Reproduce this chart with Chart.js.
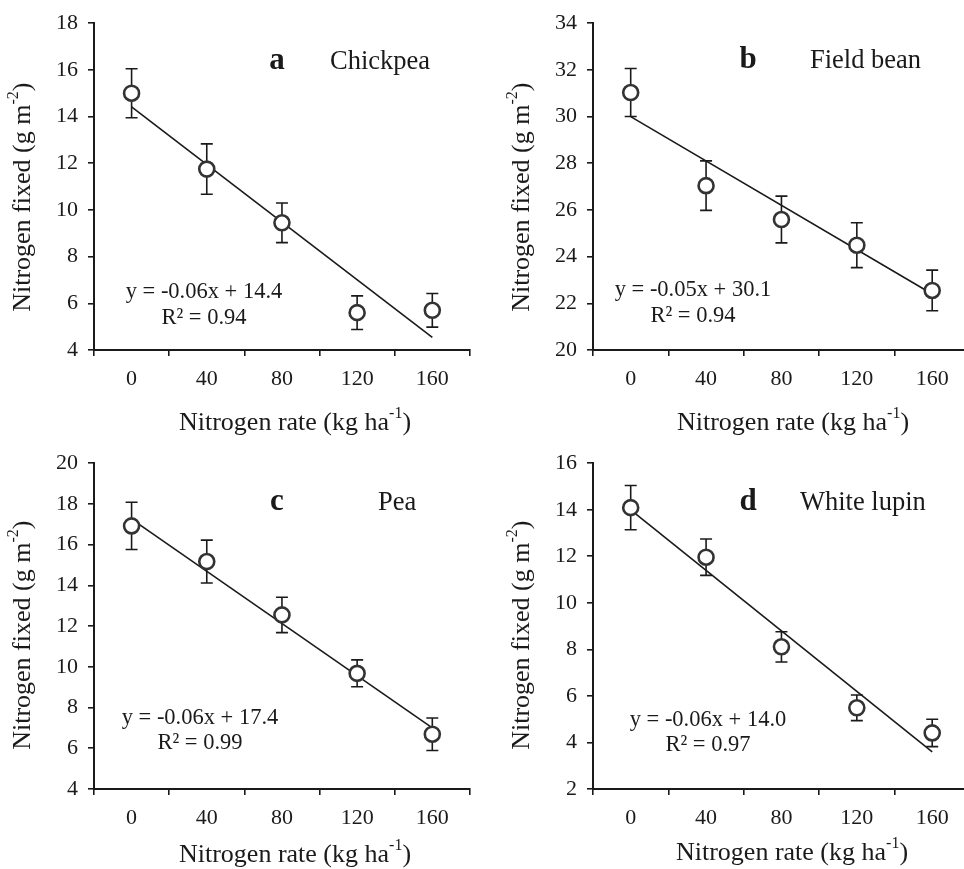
<!DOCTYPE html>
<html lang="en">
<head>
<meta charset="UTF-8">
<script src="https://cdn.jsdelivr.net/npm/chart.js"></script>
<title>Nitrogen fixed vs nitrogen rate</title>
<style>
  html, body { margin: 0; padding: 0; background: #fff; overflow: hidden; }
  body { width: 964px; height: 869px; position: relative; }
  canvas { position: absolute; }
</style>
</head>
<body>
<canvas id="panelA"></canvas>
<canvas id="panelB"></canvas>
<canvas id="panelC"></canvas>
<canvas id="panelD"></canvas>

<script>
// categories (kg N per ha)
const rates = ['0', '40', '80', '120', '160'];

// a - chickpea
const chickpeaMean = [15.0, 11.75, 9.45, 5.6, 5.7];
const chickpeaErr  = [1.05, 1.08, 0.85, 0.72, 0.72];
const chickpeaFit  = [14.42, 4.54];
const chickpeaY    = [4, 18];

// b - field bean
const beanMean = [31.03, 27.04, 25.59, 24.49, 22.55];
const beanErr  = [1.03, 1.06, 1.0, 0.96, 0.87];
const beanFit  = [30.0, 22.4];
const beanY    = [20, 34];

// c - pea
const peaMean = [16.92, 15.17, 12.55, 9.68, 6.69];
const peaErr  = [1.16, 1.05, 0.87, 0.66, 0.8];
const peaFit  = [17.25, 7.0];
const peaY    = [4, 20];

// d - white lupin
const lupinMean = [14.09, 11.96, 8.11, 5.49, 4.41];
const lupinErr  = [0.95, 0.78, 0.65, 0.55, 0.59];
const lupinFit  = [13.99, 3.6];
const lupinY    = [2, 16];

const SERIF = "'Liberation Serif', 'Times New Roman', serif";
const INK = '#1a1a1a';

// text with a raised part, centred on (x, y)
function richText(ctx, parts, x, y) {
  const big = '26px ' + SERIF, small = '16px ' + SERIF;
  let w = 0;
  parts.forEach(p => { ctx.font = p[1] ? small : big; w += ctx.measureText(p[0]).width; });
  let cx = x - w / 2;
  ctx.textAlign = 'left';
  ctx.textBaseline = 'middle';
  parts.forEach(p => {
    ctx.font = p[1] ? small : big;
    ctx.fillText(p[0], cx, p[1] ? y - 9 : y);
    cx += ctx.measureText(p[0]).width;
  });
}

// error bars + in-plot text + axis titles
const extras = {
  id: 'extras',
  beforeDatasetsDraw(chart) {
    const o = chart.options.plugins.extras;
    const xs = chart.scales.x, ys = chart.scales.y;
    const ctx = chart.ctx;
    ctx.save();
    ctx.strokeStyle = INK;
    ctx.lineWidth = 1.6;
    o.mean.forEach((v, i) => {
      const px = xs.getPixelForValue(i);
      const top = ys.getPixelForValue(v + o.err[i]);
      const bot = ys.getPixelForValue(v - o.err[i]);
      ctx.beginPath();
      ctx.moveTo(px, top); ctx.lineTo(px, bot);
      ctx.moveTo(px - 6, top); ctx.lineTo(px + 6, top);
      ctx.moveTo(px - 6, bot); ctx.lineTo(px + 6, bot);
      ctx.stroke();
    });
    ctx.restore();
  },
  afterDraw(chart) {
    const o = chart.options.plugins.extras;
    const a = chart.chartArea;
    const ctx = chart.ctx;
    ctx.save();
    ctx.fillStyle = INK;
    ctx.textBaseline = 'alphabetic';
    ctx.textAlign = 'center';
    ctx.font = 'bold 31px ' + SERIF;
    ctx.fillText(o.tag, a.left + o.tagPos[0], a.top + o.tagPos[1]);
    ctx.textAlign = 'left';
    ctx.font = '26.5px ' + SERIF;
    ctx.fillText(o.name, a.left + o.namePos[0], a.top + o.tagPos[1]);
    ctx.textAlign = 'center';
    ctx.textBaseline = 'middle';
    ctx.font = '22.5px ' + SERIF;
    ctx.fillText(o.eq, a.left + o.eqPos[0], a.top + o.eqPos[1]);
    ctx.fillText(o.r2, a.left + o.eqPos[0], a.top + o.eqPos[2]);

    richText(ctx, [['Nitrogen rate (kg ha', 0], ['-1', 1], [')', 0]],
      a.left + o.xTitle[0], a.bottom + o.xTitle[1]);

    ctx.translate(a.left + o.yTitle[0], a.top + o.yTitle[1]);
    ctx.rotate(-Math.PI / 2);
    richText(ctx, [['Nitrogen fixed (g m', 0], ['-2', 1], [')', 0]], 0, 0);
    ctx.restore();
  }
};

function panel(id, box, area, mean, err, fit, yRange, text) {
  const cv = document.getElementById(id);
  cv.width = box.w; cv.height = box.h;
  cv.style.left = box.x + 'px'; cv.style.top = box.y + 'px';
  const yW = 80, xH = 60;

  new Chart(cv, {
    type: 'line',
    data: {
      labels: rates,
      datasets: [{
        data: mean,
        showLine: false,
        pointRadius: 7.5,
        pointBorderWidth: 2.6,
        pointBorderColor: '#333',
        pointBackgroundColor: '#fff',
        order: 1
      }, {
        data: [{ x: rates[0], y: fit[0] }, { x: rates[rates.length - 1], y: fit[1] }],
        borderColor: INK,
        borderWidth: 1.6,
        pointRadius: 0,
        order: 2
      }]
    },
    options: {
      responsive: false,
      animation: false,
      devicePixelRatio: 1,
      layout: {
        padding: {
          left: area.l - yW,
          top: area.t,
          right: box.w - area.r,
          bottom: box.h - area.b - xH
        }
      },
      plugins: {
        legend: { display: false },
        tooltip: { enabled: false },
        extras: Object.assign({ mean: mean, err: err }, text)
      },
      scales: {
        x: {
          type: 'category',
          offset: true,
          afterFit(s) { s.height = xH; },
          grid: { offset: true, drawOnChartArea: false, drawTicks: true, tickLength: 6, color: INK, lineWidth: 1.6 },
          border: { display: true, color: INK, width: 2 },
          ticks: { color: INK, font: { family: SERIF, size: 22 }, padding: 10, maxRotation: 0 }
        },
        y: {
          min: yRange[0],
          max: yRange[1],
          afterFit(s) { s.width = yW; },
          grid: { drawOnChartArea: false, drawTicks: true, tickLength: 6, color: INK, lineWidth: 1.6 },
          border: { display: true, color: INK, width: 2 },
          ticks: { stepSize: 2, color: INK, font: { family: SERIF, size: 22 }, padding: 10 }
        }
      }
    },
    plugins: [extras]
  });
}

panel('panelA', { x: 0, y: 0, w: 480, h: 440 }, { l: 94, t: 20, r: 473, b: 350 },
  chickpeaMean, chickpeaErr, chickpeaFit, chickpeaY,
  { tag: 'a', name: 'Chickpea', tagPos: [183, 46], namePos: [236], eqPos: [110, 269, 295],
    eq: 'y = -0.06x + 14.4', r2: 'R\u00B2 = 0.94', xTitle: [201, 73], yTitle: [-71, 174] });

panel('panelB', { x: 480, y: 0, w: 500, h: 440 }, { l: 113, t: 20, r: 493, b: 350 },
  beanMean, beanErr, beanFit, beanY,
  { tag: 'b', name: 'Field bean', tagPos: [155, 45], namePos: [217], eqPos: [100, 267, 293],
    eq: 'y = -0.05x + 30.1', r2: 'R\u00B2 = 0.94', xTitle: [200, 73], yTitle: [-71, 174] });

panel('panelC', { x: 0, y: 440, w: 480, h: 429 }, { l: 94, t: 20, r: 473, b: 349 },
  peaMean, peaErr, peaFit, peaY,
  { tag: 'c', name: 'Pea', tagPos: [183, 47], namePos: [284], eqPos: [106, 255, 280],
    eq: 'y = -0.06x + 17.4', r2: 'R\u00B2 = 0.99', xTitle: [201, 66], yTitle: [-71, 172] });

panel('panelD', { x: 480, y: 440, w: 500, h: 429 }, { l: 113, t: 20, r: 493, b: 349 },
  lupinMean, lupinErr, lupinFit, lupinY,
  { tag: 'd', name: 'White lupin', tagPos: [155, 47], namePos: [207], eqPos: [115, 257, 282],
    eq: 'y = -0.06x + 14.0', r2: 'R\u00B2 = 0.97', xTitle: [199, 64], yTitle: [-71, 172] });
</script>
</body>
</html>
